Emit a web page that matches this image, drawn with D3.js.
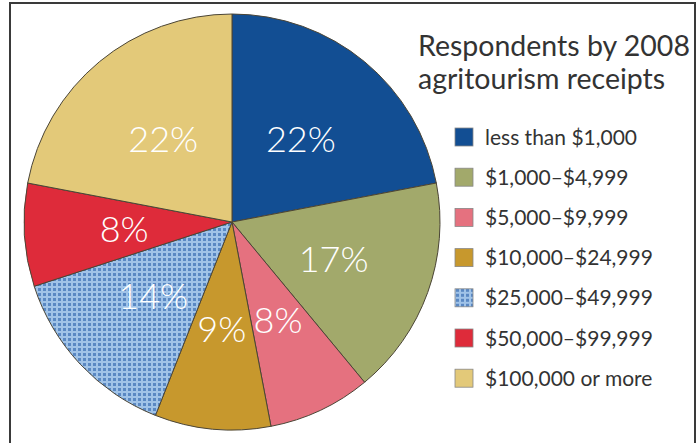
<!DOCTYPE html>
<html>
<head>
<meta charset="utf-8">
<script src="https://cdn.jsdelivr.net/npm/d3@7"></script>
<style>
  body { margin: 0; background: #fff; }
  text { font-family: Lato, "Open Sans", sans-serif; }
</style>
</head>
<body>
<svg id="chart" width="700" height="443"></svg>
<script>
// data
var categories = ["less than $1,000", "$1,000\u2013$4,999", "$5,000\u2013$9,999",
  "$10,000\u2013$24,999", "$25,000\u2013$49,999", "$50,000\u2013$99,999", "$100,000 or more"];
var percents = [22, 17, 8, 9, 14, 8, 22];
var titleLines = ["Respondents by 2008", "agritourism receipts"];

var colors = ["#124e93", "#a2a96b", "#e5717f", "#c7982d", "url(#dots)", "#de2b3a", "#e3c979"];

var svg = d3.select("#chart");

// dotted fill for 25k-50k
var pat = svg.append("defs").append("pattern")
    .attr("id", "dots")
    .attr("patternUnits", "userSpaceOnUse")
    .attr("width", 5).attr("height", 5);
pat.append("rect").attr("width", 5).attr("height", 5).attr("fill", "#a0c3e8");
pat.append("rect").attr("x", 1).attr("y", 1).attr("width", 3).attr("height", 3).attr("fill", "#5a88c3");

// frame
svg.append("rect")
    .attr("x", 10).attr("y", 3)
    .attr("width", 685).attr("height", 460)
    .attr("fill", "none")
    .attr("stroke", "#3a3a3a")
    .attr("stroke-width", 2);

var cx = 232, cy = 222, r = 208;
var color = d3.scaleOrdinal().domain(categories).range(colors);

var pie = d3.pie().sort(null).value(function (d) { return d; });
var arcs = pie(percents);
var arc = d3.arc().innerRadius(0).outerRadius(r);
var labelArc = d3.arc().innerRadius(108).outerRadius(108);

var g = svg.append("g").attr("transform", "translate(" + cx + "," + cy + ")");

g.selectAll("path.slice")
    .data(arcs)
    .enter().append("path")
    .attr("class", "slice")
    .attr("d", arc)
    .attr("fill", function (d, i) { return color(categories[i]); })
    .attr("stroke", "#4b4536")
    .attr("stroke-width", 1);

g.selectAll("text.pct")
    .data(arcs)
    .enter().append("text")
    .attr("class", "pct")
    .attr("transform", function (d) { return "translate(" + labelArc.centroid(d) + ")"; })
    .attr("text-anchor", "middle")
    .attr("dy", "0.36em")
    .attr("fill", "#fff")
    .style("font-size", "36px")
    .style("font-weight", 300)
    .text(function (d) { return d.data + "%"; });

// title
svg.selectAll("text.title")
    .data(titleLines)
    .enter().append("text")
    .attr("class", "title")
    .attr("x", 418)
    .attr("y", function (d, i) { return 56 + i * 33; })
    .attr("fill", "#333")
    .style("font-size", "28.5px")
    .text(function (d) { return d; });

// legend
var leg = svg.selectAll("g.leg")
    .data(categories)
    .enter().append("g")
    .attr("class", "leg")
    .attr("transform", function (d, i) { return "translate(455," + (137 + i * 40.2) + ")"; });

leg.append("rect")
    .attr("x", 0).attr("y", -9)
    .attr("width", 18).attr("height", 18)
    .attr("fill", function (d) { return color(d); })
    .attr("stroke", "#888")
    .attr("stroke-width", 0.8);

leg.append("text")
    .attr("x", 30)
    .attr("dy", "0.36em")
    .attr("fill", "#333")
    .style("font-size", "21px")
    .text(function (d) { return d; });
</script>
</body>
</html>
